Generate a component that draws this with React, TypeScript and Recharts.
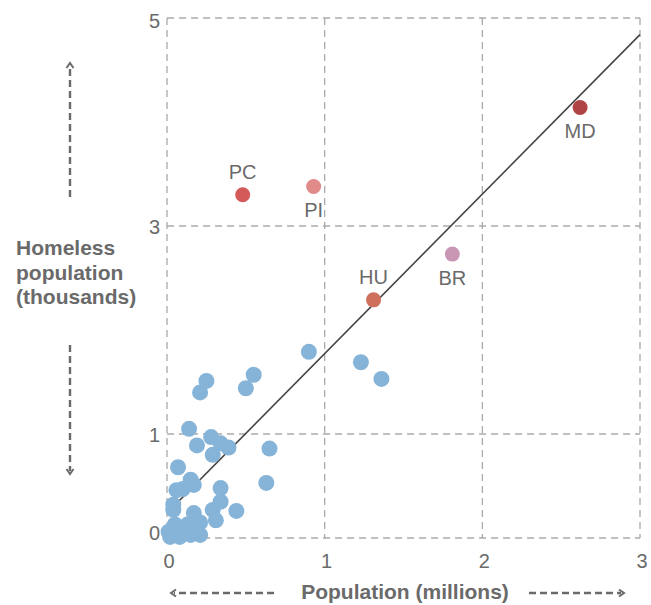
import React from 'react';
import { ScatterChart, Scatter, XAxis, YAxis, CartesianGrid, LabelList } from 'recharts';

// population (millions) vs homeless population (thousands)
const blueX = [0.90, 1.23, 1.36, 0.55, 0.50, 0.25, 0.21, 0.14, 0.19, 0.28, 0.34, 0.39, 0.29, 0.65, 0.07, 0.15, 0.17, 0.06, 0.10, 0.34, 0.63, 0.04, 0.34, 0.29, 0.31, 0.44, 0.17, 0.04, 0.05, 0.11, 0.18, 0.02, 0.08, 0.15, 0.21, 0.05, 0.13, 0.21, 0.01];
const blueY = [1.79, 1.69, 1.53, 1.57, 1.44, 1.51, 1.40, 1.05, 0.89, 0.97, 0.91, 0.87, 0.80, 0.86, 0.68, 0.56, 0.51, 0.46, 0.47, 0.48, 0.53, 0.32, 0.35, 0.27, 0.17, 0.26, 0.24, 0.27, 0.08, 0.05, 0.08, 0.01, 0.01, 0.03, 0.03, 0.13, 0.13, 0.15, 0.06];

const labelNames = ['PC', 'PI', 'HU', 'BR', 'MD'];
const labelX = [0.48, 0.93, 1.31, 1.81, 2.62];
const labelY = [3.30, 3.38, 2.29, 2.73, 4.14];

const trendX = [0, 3];
const trendY = [0.24, 4.84];

const xTicks = [0, 1, 2, 3];
const yTicks = [0, 1, 3, 5];

// styling, kept apart from the data
const labelColors = ['#d45a5a', '#e08a8a', '#cf705c', '#c996b4', '#b04343'];
const labelsAbove = ['PC', 'HU'];
const BLUE = '#86b4d8';
const GRAY = '#6a6a6a';
const FONT = '"Liberation Sans", Arial, Helvetica, sans-serif';

const blueData = blueX.map((x, i) => ({ x, y: blueY[i] }));
const labelData = labelNames.map((name, i) => ({ name, x: labelX[i], y: labelY[i], color: labelColors[i] }));
const trendData = trendX.map((x, i) => ({ x, y: trendY[i] }));

const XTick = (props: any) => {
  const { x, y, payload } = props;
  return (
    <text x={x + 2} y={y + 21} dy="0.35em" textAnchor="middle" fontSize={20} fill={GRAY} fontFamily={FONT}>
      {payload.value}
    </text>
  );
};

const YTick = (props: any) => {
  const { x, y, payload } = props;
  const shift = payload.value === 5 ? 3 : payload.value === 0 ? -5 : 1;
  return (
    <text x={x - 5} y={y + shift} dy="0.35em" textAnchor="end" fontSize={20} fill={GRAY} fontFamily={FONT}>
      {payload.value}
    </text>
  );
};

const PointLabel = (props: any) => {
  const { x, y, width, height, value } = props;
  const cx = x + width / 2;
  const cy = y + height / 2;
  const above = labelsAbove.includes(value);
  return (
    <text x={cx} y={above ? cy - 23 : cy + 24} dy="0.35em" textAnchor="middle" fontSize={20} fill={GRAY} fontFamily={FONT}>
      {value}
    </text>
  );
};

export default function App() {
  return (
    <div style={{ position: 'absolute', left: 0, top: 0, width: 651, height: 605, background: '#fff' }}>
      <ScatterChart width={651} height={605} margin={{ top: 18, right: 11, bottom: 37, left: 127 }}>
        <CartesianGrid stroke="#aaaaaa" strokeDasharray="7 5" strokeWidth={1.3} />
        <XAxis
          type="number"
          dataKey="x"
          domain={[0, 3]}
          ticks={xTicks}
          height={30}
          axisLine={false}
          tickLine={false}
          tickSize={0}
          tick={<XTick />}
        />
        <YAxis
          type="number"
          dataKey="y"
          domain={[0, 5]}
          ticks={yTicks}
          width={40}
          axisLine={false}
          tickLine={false}
          tickSize={0}
          tick={<YTick />}
        />
        <Scatter
          data={trendData}
          line={{ stroke: '#444444', strokeWidth: 1.6 }}
          shape={() => <g />}
          isAnimationActive={false}
        />
        <Scatter
          data={blueData}
          shape={(p: any) => <circle cx={p.cx} cy={p.cy} r={8} fill={BLUE} />}
          isAnimationActive={false}
        />
        <Scatter
          data={labelData}
          shape={(p: any) => <circle cx={p.cx} cy={p.cy} r={7.5} fill={p.payload.color} />}
          isAnimationActive={false}
        >
          <LabelList dataKey="name" content={<PointLabel />} />
        </Scatter>
      </ScatterChart>
      <svg width={651} height={605} style={{ position: 'absolute', left: 0, top: 0, pointerEvents: 'none' }}>
        <g stroke={GRAY} strokeWidth={2.4} fill="none">
          <line x1={70} y1={197} x2={70} y2={65} strokeDasharray="7 4" />
          <polyline points="66.5,68 70,63 73.5,68" strokeWidth={2} />
          <line x1={70} y1={345} x2={70} y2={471} strokeDasharray="7 4" />
          <polyline points="66.5,469 70,474 73.5,469" strokeWidth={2} />
          <line x1={274} y1={593} x2={174} y2={593} strokeDasharray="7 4" />
          <polyline points="176,589.5 171,593 176,596.5" strokeWidth={2} />
          <line x1={529} y1={593} x2={621} y2={593} strokeDasharray="7 4" />
          <polyline points="619,589.5 624,593 619,596.5" strokeWidth={2} />
        </g>
        <text textAnchor="start" fontSize={21} fontWeight="bold" fill={GRAY} fontFamily={FONT}>
          <tspan x={16} y={255}>Homeless</tspan>
          <tspan x={16} y={280}>population</tspan>
          <tspan x={16} y={304}>(thousands)</tspan>
        </text>
        <text x={405} y={599} textAnchor="middle" fontSize={21} fontWeight="bold" fill={GRAY} fontFamily={FONT}>
          Population (millions)
        </text>
      </svg>
    </div>
  );
}
